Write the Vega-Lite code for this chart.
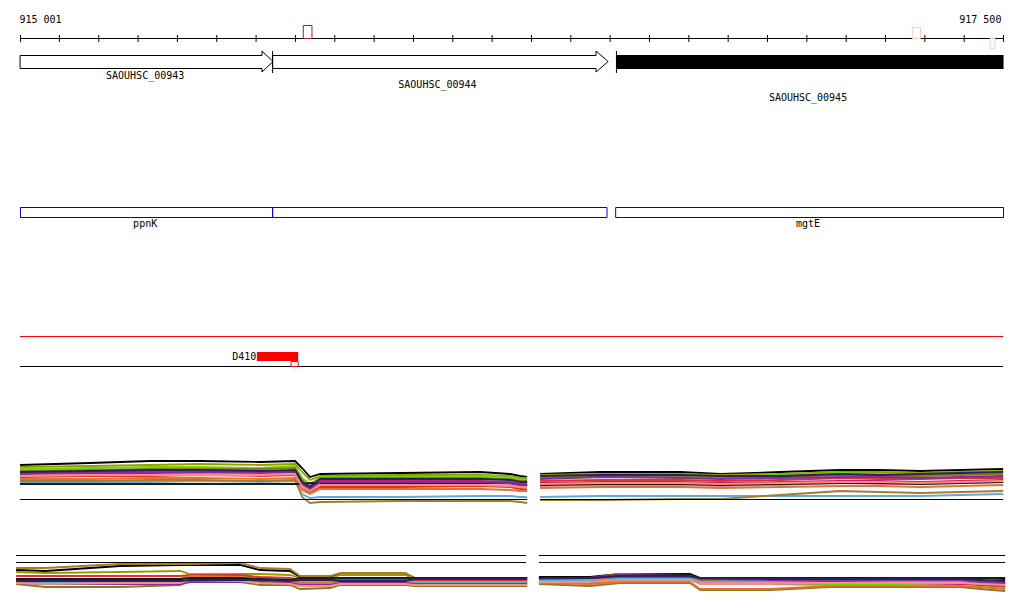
{
"$schema":"https://vega.github.io/schema/vega-lite/v6.json",
"width":1024,"height":611,"padding":0,
"autosize":{"type":"fit","contains":"padding"},
"background":"white",
"config":{"view":{"stroke":null}},
"encoding":{
"x":{"field":"x","type":"quantitative","scale":{"domain":[914950,917553],"nice":false,"zero":false},"axis":null},
"y":{"field":"y","type":"quantitative","scale":{"domain":[0,611],"nice":false,"zero":false,"reverse":true},"axis":null}
},
"layer":[
{"data":{"values":[
{"p":"UL","s":"a","x":915001,"y":465},{"p":"UL","s":"a","x":915179,"y":463},{"p":"UL","s":"a","x":915332,"y":461},{"p":"UL","s":"a","x":915459,"y":461},{"p":"UL","s":"a","x":915611,"y":462},{"p":"UL","s":"a","x":915700,"y":461},{"p":"UL","s":"a","x":915718,"y":468},{"p":"UL","s":"a","x":915738,"y":477},{"p":"UL","s":"a","x":915764,"y":474},{"p":"UL","s":"a","x":915967,"y":473},{"p":"UL","s":"a","x":916171,"y":472},{"p":"UL","s":"a","x":916247,"y":474},{"p":"UL","s":"a","x":916272,"y":476},{"p":"UL","s":"a","x":916290,"y":477},
{"p":"UL","s":"b","x":915001,"y":467},{"p":"UL","s":"b","x":915179,"y":466},{"p":"UL","s":"b","x":915332,"y":465},{"p":"UL","s":"b","x":915459,"y":464},{"p":"UL","s":"b","x":915611,"y":465},{"p":"UL","s":"b","x":915700,"y":464},{"p":"UL","s":"b","x":915718,"y":472},{"p":"UL","s":"b","x":915738,"y":480},{"p":"UL","s":"b","x":915764,"y":476},{"p":"UL","s":"b","x":915967,"y":475},{"p":"UL","s":"b","x":916171,"y":475},{"p":"UL","s":"b","x":916247,"y":476},{"p":"UL","s":"b","x":916272,"y":478},{"p":"UL","s":"b","x":916290,"y":478},
{"p":"UL","s":"c","x":915001,"y":469},{"p":"UL","s":"c","x":915179,"y":468},{"p":"UL","s":"c","x":915332,"y":467},{"p":"UL","s":"c","x":915459,"y":467},{"p":"UL","s":"c","x":915611,"y":468},{"p":"UL","s":"c","x":915700,"y":466},{"p":"UL","s":"c","x":915718,"y":478},{"p":"UL","s":"c","x":915738,"y":484},{"p":"UL","s":"c","x":915764,"y":477},{"p":"UL","s":"c","x":915967,"y":477},{"p":"UL","s":"c","x":916171,"y":476},{"p":"UL","s":"c","x":916247,"y":477},{"p":"UL","s":"c","x":916272,"y":479},{"p":"UL","s":"c","x":916290,"y":480},
{"p":"UL","s":"d","x":915001,"y":471},{"p":"UL","s":"d","x":915179,"y":470},{"p":"UL","s":"d","x":915332,"y":469},{"p":"UL","s":"d","x":915459,"y":469},{"p":"UL","s":"d","x":915611,"y":469},{"p":"UL","s":"d","x":915700,"y":468},{"p":"UL","s":"d","x":915718,"y":480},{"p":"UL","s":"d","x":915738,"y":486},{"p":"UL","s":"d","x":915764,"y":478},{"p":"UL","s":"d","x":915967,"y":478},{"p":"UL","s":"d","x":916171,"y":478},{"p":"UL","s":"d","x":916247,"y":479},{"p":"UL","s":"d","x":916272,"y":481},{"p":"UL","s":"d","x":916290,"y":481},
{"p":"UL","s":"e","x":915001,"y":473},{"p":"UL","s":"e","x":915179,"y":472},{"p":"UL","s":"e","x":915332,"y":472},{"p":"UL","s":"e","x":915459,"y":472},{"p":"UL","s":"e","x":915611,"y":472},{"p":"UL","s":"e","x":915700,"y":471},{"p":"UL","s":"e","x":915718,"y":483},{"p":"UL","s":"e","x":915738,"y":488},{"p":"UL","s":"e","x":915764,"y":481},{"p":"UL","s":"e","x":915967,"y":481},{"p":"UL","s":"e","x":916171,"y":481},{"p":"UL","s":"e","x":916247,"y":482},{"p":"UL","s":"e","x":916272,"y":484},{"p":"UL","s":"e","x":916290,"y":484},
{"p":"UL","s":"f","x":915001,"y":475},{"p":"UL","s":"f","x":915179,"y":474},{"p":"UL","s":"f","x":915332,"y":474},{"p":"UL","s":"f","x":915459,"y":473},{"p":"UL","s":"f","x":915611,"y":474},{"p":"UL","s":"f","x":915700,"y":473},{"p":"UL","s":"f","x":915718,"y":486},{"p":"UL","s":"f","x":915738,"y":490},{"p":"UL","s":"f","x":915764,"y":484},{"p":"UL","s":"f","x":915967,"y":483},{"p":"UL","s":"f","x":916171,"y":483},{"p":"UL","s":"f","x":916247,"y":484},{"p":"UL","s":"f","x":916272,"y":486},{"p":"UL","s":"f","x":916290,"y":486},
{"p":"UL","s":"g","x":915001,"y":477},{"p":"UL","s":"g","x":915179,"y":476},{"p":"UL","s":"g","x":915332,"y":476},{"p":"UL","s":"g","x":915459,"y":475},{"p":"UL","s":"g","x":915611,"y":476},{"p":"UL","s":"g","x":915700,"y":475},{"p":"UL","s":"g","x":915718,"y":488},{"p":"UL","s":"g","x":915738,"y":492},{"p":"UL","s":"g","x":915764,"y":487},{"p":"UL","s":"g","x":915967,"y":487},{"p":"UL","s":"g","x":916171,"y":486},{"p":"UL","s":"g","x":916247,"y":487},{"p":"UL","s":"g","x":916272,"y":489},{"p":"UL","s":"g","x":916290,"y":489},
{"p":"UL","s":"h","x":915001,"y":479},{"p":"UL","s":"h","x":915179,"y":479},{"p":"UL","s":"h","x":915332,"y":478},{"p":"UL","s":"h","x":915459,"y":478},{"p":"UL","s":"h","x":915611,"y":479},{"p":"UL","s":"h","x":915700,"y":478},{"p":"UL","s":"h","x":915718,"y":490},{"p":"UL","s":"h","x":915738,"y":494},{"p":"UL","s":"h","x":915764,"y":489},{"p":"UL","s":"h","x":915967,"y":489},{"p":"UL","s":"h","x":916171,"y":489},{"p":"UL","s":"h","x":916247,"y":490},{"p":"UL","s":"h","x":916272,"y":491},{"p":"UL","s":"h","x":916290,"y":491},
{"p":"UL","s":"i","x":915001,"y":482},{"p":"UL","s":"i","x":915179,"y":482},{"p":"UL","s":"i","x":915332,"y":482},{"p":"UL","s":"i","x":915459,"y":481},{"p":"UL","s":"i","x":915611,"y":482},{"p":"UL","s":"i","x":915700,"y":481},{"p":"UL","s":"i","x":915718,"y":494},{"p":"UL","s":"i","x":915738,"y":498},{"p":"UL","s":"i","x":915764,"y":497},{"p":"UL","s":"i","x":915967,"y":497},{"p":"UL","s":"i","x":916171,"y":496},{"p":"UL","s":"i","x":916247,"y":496},{"p":"UL","s":"i","x":916272,"y":497},{"p":"UL","s":"i","x":916290,"y":497},
{"p":"UL","s":"j","x":915001,"y":481},{"p":"UL","s":"j","x":915179,"y":481},{"p":"UL","s":"j","x":915332,"y":480},{"p":"UL","s":"j","x":915459,"y":480},{"p":"UL","s":"j","x":915611,"y":481},{"p":"UL","s":"j","x":915700,"y":480},{"p":"UL","s":"j","x":915718,"y":497},{"p":"UL","s":"j","x":915738,"y":503},{"p":"UL","s":"j","x":915764,"y":502},{"p":"UL","s":"j","x":915967,"y":501},{"p":"UL","s":"j","x":916171,"y":501},{"p":"UL","s":"j","x":916247,"y":501},{"p":"UL","s":"j","x":916272,"y":502},{"p":"UL","s":"j","x":916290,"y":503},
{"p":"UL","s":"k","x":915001,"y":484},{"p":"UL","s":"k","x":915179,"y":484},{"p":"UL","s":"k","x":915332,"y":484},{"p":"UL","s":"k","x":915459,"y":484},{"p":"UL","s":"k","x":915611,"y":484},{"p":"UL","s":"k","x":915700,"y":484},{"p":"UL","s":"k","x":915718,"y":484},{"p":"UL","s":"k","x":915738,"y":483},{"p":"UL","s":"k","x":915764,"y":483},{"p":"UL","s":"k","x":915967,"y":483},{"p":"UL","s":"k","x":916171,"y":483},{"p":"UL","s":"k","x":916247,"y":483},{"p":"UL","s":"k","x":916272,"y":485},{"p":"UL","s":"k","x":916290,"y":485},
{"p":"UL","s":"l","x":915001,"y":474},{"p":"UL","s":"l","x":915179,"y":473},{"p":"UL","s":"l","x":915332,"y":473},{"p":"UL","s":"l","x":915459,"y":472},{"p":"UL","s":"l","x":915611,"y":473},{"p":"UL","s":"l","x":915700,"y":472},{"p":"UL","s":"l","x":915718,"y":484},{"p":"UL","s":"l","x":915738,"y":489},{"p":"UL","s":"l","x":915764,"y":482},{"p":"UL","s":"l","x":915967,"y":482},{"p":"UL","s":"l","x":916171,"y":482},{"p":"UL","s":"l","x":916247,"y":483},{"p":"UL","s":"l","x":916272,"y":485},{"p":"UL","s":"l","x":916290,"y":485},
{"p":"UL","s":"m","x":915001,"y":476},{"p":"UL","s":"m","x":915179,"y":475},{"p":"UL","s":"m","x":915332,"y":475},{"p":"UL","s":"m","x":915459,"y":475},{"p":"UL","s":"m","x":915611,"y":475},{"p":"UL","s":"m","x":915700,"y":474},{"p":"UL","s":"m","x":915718,"y":487},{"p":"UL","s":"m","x":915738,"y":491},{"p":"UL","s":"m","x":915764,"y":485},{"p":"UL","s":"m","x":915967,"y":485},{"p":"UL","s":"m","x":916171,"y":485},{"p":"UL","s":"m","x":916247,"y":486},{"p":"UL","s":"m","x":916272,"y":487},{"p":"UL","s":"m","x":916290,"y":488},
{"p":"UL","s":"n","x":915001,"y":472},{"p":"UL","s":"n","x":915179,"y":471},{"p":"UL","s":"n","x":915332,"y":470},{"p":"UL","s":"n","x":915459,"y":470},{"p":"UL","s":"n","x":915611,"y":471},{"p":"UL","s":"n","x":915700,"y":470},{"p":"UL","s":"n","x":915718,"y":482},{"p":"UL","s":"n","x":915738,"y":487},{"p":"UL","s":"n","x":915764,"y":479},{"p":"UL","s":"n","x":915967,"y":479},{"p":"UL","s":"n","x":916171,"y":479},{"p":"UL","s":"n","x":916247,"y":480},{"p":"UL","s":"n","x":916272,"y":482},{"p":"UL","s":"n","x":916290,"y":482},
{"p":"UR","s":"a","x":916323,"y":474},{"p":"UR","s":"a","x":916476,"y":472},{"p":"UR","s":"a","x":916679,"y":472},{"p":"UR","s":"a","x":916781,"y":474},{"p":"UR","s":"a","x":916933,"y":472},{"p":"UR","s":"a","x":917086,"y":470},{"p":"UR","s":"a","x":917187,"y":470},{"p":"UR","s":"a","x":917289,"y":471},{"p":"UR","s":"a","x":917391,"y":470},{"p":"UR","s":"a","x":917500,"y":469},
{"p":"UR","s":"b","x":916323,"y":475},{"p":"UR","s":"b","x":916476,"y":474},{"p":"UR","s":"b","x":916679,"y":474},{"p":"UR","s":"b","x":916781,"y":475},{"p":"UR","s":"b","x":916933,"y":474},{"p":"UR","s":"b","x":917086,"y":472},{"p":"UR","s":"b","x":917187,"y":472},{"p":"UR","s":"b","x":917289,"y":473},{"p":"UR","s":"b","x":917391,"y":472},{"p":"UR","s":"b","x":917500,"y":471},
{"p":"UR","s":"c","x":916323,"y":477},{"p":"UR","s":"c","x":916476,"y":476},{"p":"UR","s":"c","x":916679,"y":476},{"p":"UR","s":"c","x":916781,"y":477},{"p":"UR","s":"c","x":916933,"y":475},{"p":"UR","s":"c","x":917086,"y":473},{"p":"UR","s":"c","x":917187,"y":474},{"p":"UR","s":"c","x":917289,"y":475},{"p":"UR","s":"c","x":917391,"y":474},{"p":"UR","s":"c","x":917500,"y":473},
{"p":"UR","s":"d","x":916323,"y":478},{"p":"UR","s":"d","x":916476,"y":477},{"p":"UR","s":"d","x":916679,"y":477},{"p":"UR","s":"d","x":916781,"y":478},{"p":"UR","s":"d","x":916933,"y":477},{"p":"UR","s":"d","x":917086,"y":475},{"p":"UR","s":"d","x":917187,"y":476},{"p":"UR","s":"d","x":917289,"y":476},{"p":"UR","s":"d","x":917391,"y":475},{"p":"UR","s":"d","x":917500,"y":474},
{"p":"UR","s":"e","x":916323,"y":483},{"p":"UR","s":"e","x":916476,"y":482},{"p":"UR","s":"e","x":916679,"y":482},{"p":"UR","s":"e","x":916781,"y":483},{"p":"UR","s":"e","x":916933,"y":482},{"p":"UR","s":"e","x":917086,"y":481},{"p":"UR","s":"e","x":917187,"y":481},{"p":"UR","s":"e","x":917289,"y":482},{"p":"UR","s":"e","x":917391,"y":481},{"p":"UR","s":"e","x":917500,"y":480},
{"p":"UR","s":"f","x":916323,"y":486},{"p":"UR","s":"f","x":916476,"y":485},{"p":"UR","s":"f","x":916679,"y":485},{"p":"UR","s":"f","x":916781,"y":486},{"p":"UR","s":"f","x":916933,"y":485},{"p":"UR","s":"f","x":917086,"y":483},{"p":"UR","s":"f","x":917187,"y":484},{"p":"UR","s":"f","x":917289,"y":484},{"p":"UR","s":"f","x":917391,"y":483},{"p":"UR","s":"f","x":917500,"y":482},
{"p":"UR","s":"g","x":916323,"y":481},{"p":"UR","s":"g","x":916476,"y":480},{"p":"UR","s":"g","x":916679,"y":480},{"p":"UR","s":"g","x":916781,"y":481},{"p":"UR","s":"g","x":916933,"y":480},{"p":"UR","s":"g","x":917086,"y":478},{"p":"UR","s":"g","x":917187,"y":479},{"p":"UR","s":"g","x":917289,"y":479},{"p":"UR","s":"g","x":917391,"y":478},{"p":"UR","s":"g","x":917500,"y":478},
{"p":"UR","s":"h","x":916323,"y":488},{"p":"UR","s":"h","x":916476,"y":487},{"p":"UR","s":"h","x":916679,"y":487},{"p":"UR","s":"h","x":916781,"y":488},{"p":"UR","s":"h","x":916933,"y":487},{"p":"UR","s":"h","x":917086,"y":486},{"p":"UR","s":"h","x":917187,"y":486},{"p":"UR","s":"h","x":917289,"y":487},{"p":"UR","s":"h","x":917391,"y":486},{"p":"UR","s":"h","x":917500,"y":485},
{"p":"UR","s":"i","x":916323,"y":497},{"p":"UR","s":"i","x":916476,"y":496},{"p":"UR","s":"i","x":916679,"y":496},{"p":"UR","s":"i","x":916781,"y":496},{"p":"UR","s":"i","x":916933,"y":496},{"p":"UR","s":"i","x":917086,"y":496},{"p":"UR","s":"i","x":917187,"y":496},{"p":"UR","s":"i","x":917289,"y":496},{"p":"UR","s":"i","x":917391,"y":495},{"p":"UR","s":"i","x":917500,"y":494},
{"p":"UR","s":"j","x":916323,"y":500},{"p":"UR","s":"j","x":916476,"y":500},{"p":"UR","s":"j","x":916679,"y":499},{"p":"UR","s":"j","x":916781,"y":499},{"p":"UR","s":"j","x":916933,"y":495},{"p":"UR","s":"j","x":917086,"y":491},{"p":"UR","s":"j","x":917187,"y":492},{"p":"UR","s":"j","x":917289,"y":493},{"p":"UR","s":"j","x":917391,"y":492},{"p":"UR","s":"j","x":917500,"y":491},
{"p":"UR","s":"k","x":916323,"y":485},{"p":"UR","s":"k","x":916476,"y":484},{"p":"UR","s":"k","x":916679,"y":484},{"p":"UR","s":"k","x":916781,"y":485},{"p":"UR","s":"k","x":916933,"y":484},{"p":"UR","s":"k","x":917086,"y":483},{"p":"UR","s":"k","x":917187,"y":483},{"p":"UR","s":"k","x":917289,"y":484},{"p":"UR","s":"k","x":917391,"y":483},{"p":"UR","s":"k","x":917500,"y":482},
{"p":"UR","s":"l","x":916323,"y":479},{"p":"UR","s":"l","x":916476,"y":477},{"p":"UR","s":"l","x":916679,"y":478},{"p":"UR","s":"l","x":916781,"y":479},{"p":"UR","s":"l","x":916933,"y":478},{"p":"UR","s":"l","x":917086,"y":477},{"p":"UR","s":"l","x":917187,"y":477},{"p":"UR","s":"l","x":917289,"y":478},{"p":"UR","s":"l","x":917391,"y":477},{"p":"UR","s":"l","x":917500,"y":476},
{"p":"UR","s":"m","x":916323,"y":484},{"p":"UR","s":"m","x":916476,"y":483},{"p":"UR","s":"m","x":916679,"y":483},{"p":"UR","s":"m","x":916781,"y":484},{"p":"UR","s":"m","x":916933,"y":483},{"p":"UR","s":"m","x":917086,"y":482},{"p":"UR","s":"m","x":917187,"y":482},{"p":"UR","s":"m","x":917289,"y":483},{"p":"UR","s":"m","x":917391,"y":482},{"p":"UR","s":"m","x":917500,"y":481},
{"p":"UR","s":"n","x":916323,"y":476},{"p":"UR","s":"n","x":916476,"y":475},{"p":"UR","s":"n","x":916679,"y":475},{"p":"UR","s":"n","x":916781,"y":476},{"p":"UR","s":"n","x":916933,"y":476},{"p":"UR","s":"n","x":917086,"y":474},{"p":"UR","s":"n","x":917187,"y":475},{"p":"UR","s":"n","x":917289,"y":474},{"p":"UR","s":"n","x":917391,"y":473},{"p":"UR","s":"n","x":917500,"y":472},
{"p":"LL","s":"a","x":914991,"y":570},{"p":"LL","s":"a","x":915065,"y":571},{"p":"LL","s":"a","x":915255,"y":566},{"p":"LL","s":"a","x":915408,"y":565},{"p":"LL","s":"a","x":915433,"y":565},{"p":"LL","s":"a","x":915560,"y":565},{"p":"LL","s":"a","x":915611,"y":570},{"p":"LL","s":"a","x":915687,"y":571},{"p":"LL","s":"a","x":915713,"y":577},{"p":"LL","s":"a","x":915789,"y":577},{"p":"LL","s":"a","x":915815,"y":574},{"p":"LL","s":"a","x":915980,"y":574},{"p":"LL","s":"a","x":916005,"y":578},{"p":"LL","s":"a","x":916290,"y":578},
{"p":"LL","s":"b","x":914991,"y":572},{"p":"LL","s":"b","x":915065,"y":573},{"p":"LL","s":"b","x":915255,"y":572},{"p":"LL","s":"b","x":915408,"y":571},{"p":"LL","s":"b","x":915433,"y":574},{"p":"LL","s":"b","x":915560,"y":574},{"p":"LL","s":"b","x":915611,"y":574},{"p":"LL","s":"b","x":915687,"y":575},{"p":"LL","s":"b","x":915713,"y":578},{"p":"LL","s":"b","x":915789,"y":578},{"p":"LL","s":"b","x":915815,"y":575},{"p":"LL","s":"b","x":915980,"y":575},{"p":"LL","s":"b","x":916005,"y":579},{"p":"LL","s":"b","x":916290,"y":579},
{"p":"LL","s":"c","x":914991,"y":580},{"p":"LL","s":"c","x":915065,"y":580},{"p":"LL","s":"c","x":915255,"y":580},{"p":"LL","s":"c","x":915408,"y":579},{"p":"LL","s":"c","x":915433,"y":574},{"p":"LL","s":"c","x":915560,"y":575},{"p":"LL","s":"c","x":915611,"y":579},{"p":"LL","s":"c","x":915687,"y":580},{"p":"LL","s":"c","x":915713,"y":581},{"p":"LL","s":"c","x":915789,"y":581},{"p":"LL","s":"c","x":915815,"y":580},{"p":"LL","s":"c","x":915980,"y":580},{"p":"LL","s":"c","x":916005,"y":581},{"p":"LL","s":"c","x":916290,"y":581},
{"p":"LL","s":"d","x":914991,"y":584},{"p":"LL","s":"d","x":915065,"y":587},{"p":"LL","s":"d","x":915255,"y":587},{"p":"LL","s":"d","x":915408,"y":585},{"p":"LL","s":"d","x":915433,"y":581},{"p":"LL","s":"d","x":915560,"y":582},{"p":"LL","s":"d","x":915611,"y":585},{"p":"LL","s":"d","x":915687,"y":585},{"p":"LL","s":"d","x":915713,"y":589},{"p":"LL","s":"d","x":915789,"y":588},{"p":"LL","s":"d","x":915815,"y":585},{"p":"LL","s":"d","x":915980,"y":585},{"p":"LL","s":"d","x":916005,"y":586},{"p":"LL","s":"d","x":916290,"y":586},
{"p":"LL","s":"e","x":914991,"y":580},{"p":"LL","s":"e","x":915065,"y":580},{"p":"LL","s":"e","x":915255,"y":581},{"p":"LL","s":"e","x":915408,"y":580},{"p":"LL","s":"e","x":915433,"y":579},{"p":"LL","s":"e","x":915560,"y":579},{"p":"LL","s":"e","x":915611,"y":580},{"p":"LL","s":"e","x":915687,"y":581},{"p":"LL","s":"e","x":915713,"y":582},{"p":"LL","s":"e","x":915789,"y":582},{"p":"LL","s":"e","x":915815,"y":581},{"p":"LL","s":"e","x":915980,"y":581},{"p":"LL","s":"e","x":916005,"y":582},{"p":"LL","s":"e","x":916290,"y":582},
{"p":"LL","s":"f","x":914991,"y":582},{"p":"LL","s":"f","x":915065,"y":581},{"p":"LL","s":"f","x":915255,"y":581},{"p":"LL","s":"f","x":915408,"y":581},{"p":"LL","s":"f","x":915433,"y":578},{"p":"LL","s":"f","x":915560,"y":578},{"p":"LL","s":"f","x":915611,"y":581},{"p":"LL","s":"f","x":915687,"y":582},{"p":"LL","s":"f","x":915713,"y":584},{"p":"LL","s":"f","x":915789,"y":584},{"p":"LL","s":"f","x":915815,"y":582},{"p":"LL","s":"f","x":915980,"y":582},{"p":"LL","s":"f","x":916005,"y":583},{"p":"LL","s":"f","x":916290,"y":583},
{"p":"LL","s":"g","x":914991,"y":576},{"p":"LL","s":"g","x":915065,"y":576},{"p":"LL","s":"g","x":915255,"y":576},{"p":"LL","s":"g","x":915408,"y":576},{"p":"LL","s":"g","x":915433,"y":575},{"p":"LL","s":"g","x":915560,"y":575},{"p":"LL","s":"g","x":915611,"y":577},{"p":"LL","s":"g","x":915687,"y":578},{"p":"LL","s":"g","x":915713,"y":580},{"p":"LL","s":"g","x":915789,"y":580},{"p":"LL","s":"g","x":915815,"y":579},{"p":"LL","s":"g","x":915980,"y":579},{"p":"LL","s":"g","x":916005,"y":580},{"p":"LL","s":"g","x":916290,"y":580},
{"p":"LL","s":"h","x":914991,"y":579},{"p":"LL","s":"h","x":915065,"y":580},{"p":"LL","s":"h","x":915255,"y":580},{"p":"LL","s":"h","x":915408,"y":580},{"p":"LL","s":"h","x":915433,"y":576},{"p":"LL","s":"h","x":915560,"y":577},{"p":"LL","s":"h","x":915611,"y":580},{"p":"LL","s":"h","x":915687,"y":581},{"p":"LL","s":"h","x":915713,"y":583},{"p":"LL","s":"h","x":915789,"y":583},{"p":"LL","s":"h","x":915815,"y":581},{"p":"LL","s":"h","x":915980,"y":581},{"p":"LL","s":"h","x":916005,"y":582},{"p":"LL","s":"h","x":916290,"y":583},
{"p":"LL","s":"i","x":914991,"y":582},{"p":"LL","s":"i","x":915065,"y":583},{"p":"LL","s":"i","x":915255,"y":583},{"p":"LL","s":"i","x":915408,"y":582},{"p":"LL","s":"i","x":915433,"y":582},{"p":"LL","s":"i","x":915560,"y":582},{"p":"LL","s":"i","x":915611,"y":580},{"p":"LL","s":"i","x":915687,"y":580},{"p":"LL","s":"i","x":915713,"y":581},{"p":"LL","s":"i","x":915789,"y":581},{"p":"LL","s":"i","x":915815,"y":581},{"p":"LL","s":"i","x":915980,"y":581},{"p":"LL","s":"i","x":916005,"y":582},{"p":"LL","s":"i","x":916290,"y":582},
{"p":"LL","s":"j","x":914991,"y":568},{"p":"LL","s":"j","x":915065,"y":568},{"p":"LL","s":"j","x":915255,"y":564},{"p":"LL","s":"j","x":915408,"y":564},{"p":"LL","s":"j","x":915433,"y":564},{"p":"LL","s":"j","x":915560,"y":563},{"p":"LL","s":"j","x":915611,"y":568},{"p":"LL","s":"j","x":915687,"y":569},{"p":"LL","s":"j","x":915713,"y":576},{"p":"LL","s":"j","x":915789,"y":576},{"p":"LL","s":"j","x":915815,"y":573},{"p":"LL","s":"j","x":915980,"y":573},{"p":"LL","s":"j","x":916005,"y":578},{"p":"LL","s":"j","x":916290,"y":578},
{"p":"LL","s":"k","x":914991,"y":579},{"p":"LL","s":"k","x":915065,"y":579},{"p":"LL","s":"k","x":915255,"y":579},{"p":"LL","s":"k","x":915408,"y":579},{"p":"LL","s":"k","x":915433,"y":578},{"p":"LL","s":"k","x":915560,"y":578},{"p":"LL","s":"k","x":915611,"y":579},{"p":"LL","s":"k","x":915687,"y":580},{"p":"LL","s":"k","x":915713,"y":578},{"p":"LL","s":"k","x":915789,"y":578},{"p":"LL","s":"k","x":915815,"y":578},{"p":"LL","s":"k","x":915980,"y":578},{"p":"LL","s":"k","x":916005,"y":578},{"p":"LL","s":"k","x":916290,"y":578},
{"p":"LL","s":"l","x":914991,"y":583},{"p":"LL","s":"l","x":915065,"y":584},{"p":"LL","s":"l","x":915255,"y":584},{"p":"LL","s":"l","x":915408,"y":584},{"p":"LL","s":"l","x":915433,"y":582},{"p":"LL","s":"l","x":915560,"y":582},{"p":"LL","s":"l","x":915611,"y":582},{"p":"LL","s":"l","x":915687,"y":583},{"p":"LL","s":"l","x":915713,"y":585},{"p":"LL","s":"l","x":915789,"y":585},{"p":"LL","s":"l","x":915815,"y":583},{"p":"LL","s":"l","x":915980,"y":583},{"p":"LL","s":"l","x":916005,"y":584},{"p":"LL","s":"l","x":916290,"y":584},
{"p":"LL","s":"m","x":914991,"y":583},{"p":"LL","s":"m","x":915065,"y":584},{"p":"LL","s":"m","x":915255,"y":583},{"p":"LL","s":"m","x":915408,"y":583},{"p":"LL","s":"m","x":915433,"y":580},{"p":"LL","s":"m","x":915560,"y":581},{"p":"LL","s":"m","x":915611,"y":583},{"p":"LL","s":"m","x":915687,"y":584},{"p":"LL","s":"m","x":915713,"y":586},{"p":"LL","s":"m","x":915789,"y":586},{"p":"LL","s":"m","x":915815,"y":584},{"p":"LL","s":"m","x":915980,"y":584},{"p":"LL","s":"m","x":916005,"y":585},{"p":"LL","s":"m","x":916290,"y":585},
{"p":"LL","s":"n","x":914991,"y":581},{"p":"LL","s":"n","x":915065,"y":581},{"p":"LL","s":"n","x":915255,"y":581},{"p":"LL","s":"n","x":915408,"y":581},{"p":"LL","s":"n","x":915433,"y":580},{"p":"LL","s":"n","x":915560,"y":580},{"p":"LL","s":"n","x":915611,"y":580},{"p":"LL","s":"n","x":915687,"y":581},{"p":"LL","s":"n","x":915713,"y":580},{"p":"LL","s":"n","x":915789,"y":580},{"p":"LL","s":"n","x":915815,"y":581},{"p":"LL","s":"n","x":915980,"y":581},{"p":"LL","s":"n","x":916005,"y":579},{"p":"LL","s":"n","x":916290,"y":579},
{"p":"LR","s":"a","x":916320,"y":577},{"p":"LR","s":"a","x":916450,"y":577},{"p":"LR","s":"a","x":916526,"y":574},{"p":"LR","s":"a","x":916704,"y":574},{"p":"LR","s":"a","x":916730,"y":578},{"p":"LR","s":"a","x":916908,"y":578},{"p":"LR","s":"a","x":917060,"y":578},{"p":"LR","s":"a","x":917238,"y":578},{"p":"LR","s":"a","x":917391,"y":578},{"p":"LR","s":"a","x":917442,"y":578},{"p":"LR","s":"a","x":917505,"y":579},
{"p":"LR","s":"b","x":916320,"y":580},{"p":"LR","s":"b","x":916450,"y":580},{"p":"LR","s":"b","x":916526,"y":578},{"p":"LR","s":"b","x":916704,"y":577},{"p":"LR","s":"b","x":916730,"y":584},{"p":"LR","s":"b","x":916908,"y":583},{"p":"LR","s":"b","x":917060,"y":581},{"p":"LR","s":"b","x":917238,"y":582},{"p":"LR","s":"b","x":917391,"y":582},{"p":"LR","s":"b","x":917442,"y":585},{"p":"LR","s":"b","x":917505,"y":587},
{"p":"LR","s":"c","x":916320,"y":580},{"p":"LR","s":"c","x":916450,"y":581},{"p":"LR","s":"c","x":916526,"y":578},{"p":"LR","s":"c","x":916704,"y":578},{"p":"LR","s":"c","x":916730,"y":583},{"p":"LR","s":"c","x":916908,"y":584},{"p":"LR","s":"c","x":917060,"y":585},{"p":"LR","s":"c","x":917238,"y":584},{"p":"LR","s":"c","x":917391,"y":583},{"p":"LR","s":"c","x":917442,"y":584},{"p":"LR","s":"c","x":917505,"y":586},
{"p":"LR","s":"d","x":916320,"y":584},{"p":"LR","s":"d","x":916450,"y":586},{"p":"LR","s":"d","x":916526,"y":583},{"p":"LR","s":"d","x":916704,"y":583},{"p":"LR","s":"d","x":916730,"y":590},{"p":"LR","s":"d","x":916908,"y":590},{"p":"LR","s":"d","x":917060,"y":587},{"p":"LR","s":"d","x":917238,"y":587},{"p":"LR","s":"d","x":917391,"y":587},{"p":"LR","s":"d","x":917442,"y":589},{"p":"LR","s":"d","x":917505,"y":591},
{"p":"LR","s":"e","x":916320,"y":582},{"p":"LR","s":"e","x":916450,"y":583},{"p":"LR","s":"e","x":916526,"y":580},{"p":"LR","s":"e","x":916704,"y":580},{"p":"LR","s":"e","x":916730,"y":583},{"p":"LR","s":"e","x":916908,"y":584},{"p":"LR","s":"e","x":917060,"y":583},{"p":"LR","s":"e","x":917238,"y":583},{"p":"LR","s":"e","x":917391,"y":584},{"p":"LR","s":"e","x":917442,"y":585},{"p":"LR","s":"e","x":917505,"y":586},
{"p":"LR","s":"f","x":916320,"y":581},{"p":"LR","s":"f","x":916450,"y":581},{"p":"LR","s":"f","x":916526,"y":579},{"p":"LR","s":"f","x":916704,"y":579},{"p":"LR","s":"f","x":916730,"y":582},{"p":"LR","s":"f","x":916908,"y":582},{"p":"LR","s":"f","x":917060,"y":582},{"p":"LR","s":"f","x":917238,"y":583},{"p":"LR","s":"f","x":917391,"y":582},{"p":"LR","s":"f","x":917442,"y":583},{"p":"LR","s":"f","x":917505,"y":584},
{"p":"LR","s":"g","x":916320,"y":579},{"p":"LR","s":"g","x":916450,"y":580},{"p":"LR","s":"g","x":916526,"y":577},{"p":"LR","s":"g","x":916704,"y":577},{"p":"LR","s":"g","x":916730,"y":580},{"p":"LR","s":"g","x":916908,"y":581},{"p":"LR","s":"g","x":917060,"y":580},{"p":"LR","s":"g","x":917238,"y":581},{"p":"LR","s":"g","x":917391,"y":581},{"p":"LR","s":"g","x":917442,"y":582},{"p":"LR","s":"g","x":917505,"y":583},
{"p":"LR","s":"h","x":916320,"y":583},{"p":"LR","s":"h","x":916450,"y":584},{"p":"LR","s":"h","x":916526,"y":582},{"p":"LR","s":"h","x":916704,"y":582},{"p":"LR","s":"h","x":916730,"y":589},{"p":"LR","s":"h","x":916908,"y":589},{"p":"LR","s":"h","x":917060,"y":586},{"p":"LR","s":"h","x":917238,"y":586},{"p":"LR","s":"h","x":917391,"y":586},{"p":"LR","s":"h","x":917442,"y":587},{"p":"LR","s":"h","x":917505,"y":589},
{"p":"LR","s":"i","x":916320,"y":581},{"p":"LR","s":"i","x":916450,"y":580},{"p":"LR","s":"i","x":916526,"y":579},{"p":"LR","s":"i","x":916704,"y":579},{"p":"LR","s":"i","x":916730,"y":581},{"p":"LR","s":"i","x":916908,"y":581},{"p":"LR","s":"i","x":917060,"y":581},{"p":"LR","s":"i","x":917238,"y":582},{"p":"LR","s":"i","x":917391,"y":581},{"p":"LR","s":"i","x":917442,"y":582},{"p":"LR","s":"i","x":917505,"y":583},
{"p":"LR","s":"j","x":916320,"y":578},{"p":"LR","s":"j","x":916450,"y":578},{"p":"LR","s":"j","x":916526,"y":574},{"p":"LR","s":"j","x":916704,"y":575},{"p":"LR","s":"j","x":916730,"y":580},{"p":"LR","s":"j","x":916908,"y":579},{"p":"LR","s":"j","x":917060,"y":579},{"p":"LR","s":"j","x":917238,"y":579},{"p":"LR","s":"j","x":917391,"y":580},{"p":"LR","s":"j","x":917442,"y":581},{"p":"LR","s":"j","x":917505,"y":582},
{"p":"LR","s":"k","x":916320,"y":578},{"p":"LR","s":"k","x":916450,"y":578},{"p":"LR","s":"k","x":916526,"y":575},{"p":"LR","s":"k","x":916704,"y":575},{"p":"LR","s":"k","x":916730,"y":578},{"p":"LR","s":"k","x":916908,"y":578},{"p":"LR","s":"k","x":917060,"y":578},{"p":"LR","s":"k","x":917238,"y":578},{"p":"LR","s":"k","x":917391,"y":578},{"p":"LR","s":"k","x":917442,"y":578},{"p":"LR","s":"k","x":917505,"y":578},
{"p":"LR","s":"l","x":916320,"y":578},{"p":"LR","s":"l","x":916450,"y":578},{"p":"LR","s":"l","x":916526,"y":575},{"p":"LR","s":"l","x":916704,"y":576},{"p":"LR","s":"l","x":916730,"y":579},{"p":"LR","s":"l","x":916908,"y":580},{"p":"LR","s":"l","x":917060,"y":581},{"p":"LR","s":"l","x":917238,"y":580},{"p":"LR","s":"l","x":917391,"y":580},{"p":"LR","s":"l","x":917442,"y":582},{"p":"LR","s":"l","x":917505,"y":583},
{"p":"LR","s":"m","x":916320,"y":582},{"p":"LR","s":"m","x":916450,"y":582},{"p":"LR","s":"m","x":916526,"y":580},{"p":"LR","s":"m","x":916704,"y":580},{"p":"LR","s":"m","x":916730,"y":584},{"p":"LR","s":"m","x":916908,"y":584},{"p":"LR","s":"m","x":917060,"y":583},{"p":"LR","s":"m","x":917238,"y":583},{"p":"LR","s":"m","x":917391,"y":583},{"p":"LR","s":"m","x":917442,"y":584},{"p":"LR","s":"m","x":917505,"y":585},
{"p":"LR","s":"n","x":916320,"y":578},{"p":"LR","s":"n","x":916450,"y":578},{"p":"LR","s":"n","x":916526,"y":576},{"p":"LR","s":"n","x":916704,"y":576},{"p":"LR","s":"n","x":916730,"y":578},{"p":"LR","s":"n","x":916908,"y":579},{"p":"LR","s":"n","x":917060,"y":579},{"p":"LR","s":"n","x":917238,"y":579},{"p":"LR","s":"n","x":917391,"y":579},{"p":"LR","s":"n","x":917442,"y":580},{"p":"LR","s":"n","x":917505,"y":581}
]},
"mark":{"type":"line","strokeWidth":1.8,"interpolate":"linear"},
"encoding":{
"detail":{"field":"p","type":"nominal"},
"color":{"field":"s","type":"nominal","legend":null,"scale":{"domain":["a","b","c","d","e","f","g","h","i","j","k","l","m","n"],"range":["#000000","#9a9a00","#66dd00","#8b7a1a","#c0207a","#e585a5","#e03030","#e2722e","#62a8e0","#a87a2a","#1a1a1a","#8a2aa0","#f59080","#24245a"]}}
}},
{"data":{"values":[
{"x":915001,"x2":917500,"y":38.5},
{"x":915001,"x2":917500,"y":366.5},
{"x":915001,"x2":916290,"y":499.5},
{"x":916323,"x2":917500,"y":499.5},
{"x":914991,"x2":916287,"y":555.5},
{"x":914991,"x2":916287,"y":562.5},
{"x":916320,"x2":917505,"y":555.5},
{"x":916320,"x2":917505,"y":562.5}
]},
"mark":{"type":"rule","color":"#000000","strokeWidth":1},
"encoding":{"x2":{"field":"x2"}}},
{"data":{"values":[{"x":915001,"x2":917500,"y":336.5}]},
"mark":{"type":"rule","color":"#ff0000","strokeWidth":1},
"encoding":{"x2":{"field":"x2"}}},
{"data":{"values":[
{"x":915002,"y":35,"y2":42},{"x":915101,"y":35,"y2":42},{"x":915201,"y":35,"y2":42},{"x":915301,"y":35,"y2":42},{"x":915401,"y":35,"y2":42},{"x":915501,"y":35,"y2":42},{"x":915601,"y":35,"y2":42},{"x":915701,"y":35,"y2":42},{"x":915801,"y":35,"y2":42},{"x":915901,"y":35,"y2":42},{"x":916001,"y":35,"y2":42},{"x":916101,"y":35,"y2":42},{"x":916201,"y":35,"y2":42},{"x":916301,"y":35,"y2":42},{"x":916401,"y":35,"y2":42},{"x":916501,"y":35,"y2":42},{"x":916601,"y":35,"y2":42},{"x":916701,"y":35,"y2":42},{"x":916801,"y":35,"y2":42},{"x":916901,"y":35,"y2":42},{"x":917001,"y":35,"y2":42},{"x":917101,"y":35,"y2":42},{"x":917201,"y":35,"y2":42},{"x":917301,"y":35,"y2":42},{"x":917401,"y":35,"y2":42},{"x":917501,"y":35,"y2":42},
{"x":915643,"y":51,"y2":73},{"x":916517,"y":51,"y2":73}
]},
"mark":{"type":"rule","color":"#000000","strokeWidth":1},
"encoding":{"y2":{"field":"y2"}}},
{"data":{"values":[
{"g":"SAOUHSC_00943","i":0,"x":915001,"y":55.5},{"g":"SAOUHSC_00943","i":1,"x":915616,"y":55.5},{"g":"SAOUHSC_00943","i":2,"x":915616,"y":51},{"g":"SAOUHSC_00943","i":3,"x":915644,"y":61.5},{"g":"SAOUHSC_00943","i":4,"x":915616,"y":72},{"g":"SAOUHSC_00943","i":5,"x":915616,"y":68.5},{"g":"SAOUHSC_00943","i":6,"x":915001,"y":68.5},{"g":"SAOUHSC_00943","i":7,"x":915001,"y":55.5},
{"g":"SAOUHSC_00944","i":0,"x":915643,"y":55.5},{"g":"SAOUHSC_00944","i":1,"x":916465,"y":55.5},{"g":"SAOUHSC_00944","i":2,"x":916465,"y":51},{"g":"SAOUHSC_00944","i":3,"x":916496,"y":61.5},{"g":"SAOUHSC_00944","i":4,"x":916465,"y":72},{"g":"SAOUHSC_00944","i":5,"x":916465,"y":68.5},{"g":"SAOUHSC_00944","i":6,"x":915643,"y":68.5},{"g":"SAOUHSC_00944","i":7,"x":915643,"y":55.5}
]},
"mark":{"type":"line","color":"#000000","strokeWidth":1,"interpolate":"linear"},
"encoding":{"detail":{"field":"g","type":"nominal"},"order":{"field":"i","type":"quantitative"}}},
{"data":{"values":[{"x":916516,"x2":917501,"y":55,"y2":69}]},
"mark":{"type":"rect","color":"#000000"},
"encoding":{"x2":{"field":"x2"},"y2":{"field":"y2"}}},
{"data":{"values":[
{"x":915002,"x2":915643,"y":207.5,"y2":217.5},
{"x":915643,"x2":916493,"y":207.5,"y2":217.5},
{"x":916515,"x2":917501,"y":207.5,"y2":217.5}
]},
"mark":{"type":"rect","fill":null,"fillOpacity":0,"stroke":"#0000dd","strokeWidth":1},
"encoding":{"x2":{"field":"x2"},"y2":{"field":"y2"}}},
{"data":{"values":[{"x":915603,"x2":915708,"y":352,"y2":361}]},
"mark":{"type":"rect","color":"#ff0000"},
"encoding":{"x2":{"field":"x2"},"y2":{"field":"y2"}}},
{"data":{"values":[{"x":915690,"x2":915708,"y":361.5,"y2":366.5}]},
"mark":{"type":"rect","fill":"#ffffff","stroke":"#ff0000","strokeWidth":1},
"encoding":{"x2":{"field":"x2"},"y2":{"field":"y2"}}},
{"data":{"values":[{"x":915721,"x2":915743,"y":25.5,"y2":38.5}]},
"mark":{"type":"rect","fill":"#ffffff","stroke":"#a82020","strokeWidth":1},
"encoding":{"x2":{"field":"x2"},"y2":{"field":"y2"}}},
{"data":{"values":[{"x":917269,"x2":917290,"y":27.5,"y2":38.5},{"x":917467,"x2":917479,"y":38.5,"y2":48.5}]},
"mark":{"type":"rect","fill":"#ffffff","stroke":"#ffcdb8","strokeWidth":1},
"encoding":{"x2":{"field":"x2"},"y2":{"field":"y2"}}},
{"data":{"values":[
{"x":915053,"y":20,"label":"915 001"},
{"x":917442,"y":20,"label":"917 500"},
{"x":915319,"y":76,"label":"SAOUHSC_00943"},
{"x":916062,"y":85,"label":"SAOUHSC_00944"},
{"x":917004,"y":98,"label":"SAOUHSC_00945"},
{"x":915319,"y":224,"label":"ppnK"},
{"x":917004,"y":224,"label":"mgtE"},
{"x":915571,"y":357,"label":"D410"}
]},
"mark":{"type":"text","font":"DejaVu Sans Mono","fontSize":10,"color":"#000000","align":"center","baseline":"middle"},
"encoding":{"text":{"field":"label"}}}
]
}
